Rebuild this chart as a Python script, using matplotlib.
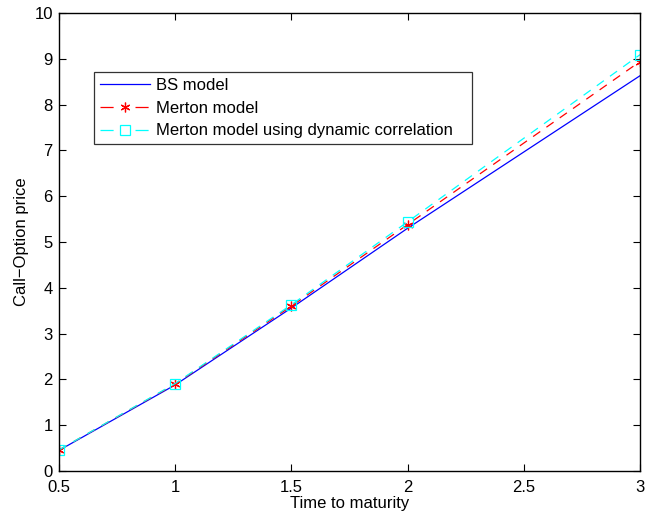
import matplotlib
matplotlib.use("Agg")
import matplotlib.pyplot as plt
from matplotlib.lines import Line2D

plt.rcParams['font.family'] = ['Liberation Sans', 'DejaVu Sans']
plt.rcParams['font.size'] = 12

maturity = [0.5, 1.0, 1.5, 2.0, 3.0]
bs_price = [0.45, 1.88, 3.56, 5.30, 8.63]
merton_price = [0.46, 1.90, 3.60, 5.38, 8.94]
dyn_price = [0.46, 1.91, 3.63, 5.44, 9.09]

labels = ['BS model', 'Merton model', 'Merton model using dynamic correlation']

# matlab style asterisk marker
star = (6, 2, 0)
dash = (0, (7, 6))
leg_dash = (0, (10.5, 17.5))

fig = plt.figure(figsize=(6.45, 5.17), dpi=100)
ax = fig.add_axes([59 / 645, 46 / 517, 581 / 645, 458 / 517])

ax.plot(maturity, bs_price, color='blue', lw=0.9)
ax.plot(maturity, merton_price, color='red', lw=0.9, ls=dash,
        marker=star, markersize=7, markeredgewidth=0.9)
ax.plot(maturity, dyn_price, color='cyan', lw=0.9, ls=dash,
        marker='s', markersize=6.5, markerfacecolor='none', markeredgewidth=0.9)

ax.set_xlim(0.5, 3)
ax.set_ylim(0, 10)
ax.set_xticks([0.5, 1, 1.5, 2, 2.5, 3])
ax.set_xticklabels(['0.5', '1', '1.5', '2', '2.5', '3'])
ax.set_yticks(range(0, 11))
ax.tick_params(direction='in', top=True, right=True, length=5, width=0.8)
ax.tick_params(axis='x', pad=6.5)
ax.tick_params(axis='y', pad=4.5)
for s in ax.spines.values():
    s.set_linewidth(1.0)

ax.set_xlabel('Time to maturity', labelpad=1)
ax.set_ylabel('Call\u2212Option price', labelpad=4)

# legend proxies drawn like matlab: dash - marker - dash
handles = [
    Line2D([], [], color='blue', lw=0.9),
    Line2D([], [], color='red', lw=0.9, ls=leg_dash, marker=star,
           markersize=7, markeredgewidth=0.9),
    Line2D([], [], color='cyan', lw=0.9, ls=leg_dash, marker='s',
           markersize=6.5, markerfacecolor='none', markeredgewidth=0.9),
]
leg = ax.legend(handles, [labels[0], labels[1], labels[2] + '   '],
                loc='upper left', bbox_to_anchor=(35 / 581, 1 - 59 / 458),
                frameon=True, fancybox=False, edgecolor='black',
                handlelength=3.0, handletextpad=0.35, borderpad=0.35,
                labelspacing=0.47, borderaxespad=0)
leg.get_frame().set_linewidth(0.9)

fig.savefig('out.png', dpi=100)
